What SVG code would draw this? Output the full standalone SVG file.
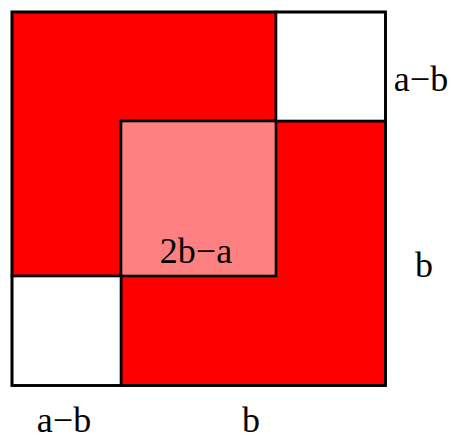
<svg xmlns="http://www.w3.org/2000/svg" width="451" height="436" viewBox="0 0 451 436">
<style>
.r{fill:#ff0000;stroke:#000;stroke-width:2.6}
.w{fill:#ffffff;stroke:#000;stroke-width:2.6}
.p{fill:#ff8080;stroke:#000;stroke-width:2.6}
.t{font-family:"Liberation Serif","Times New Roman",serif;font-size:36px;fill:#000}
</style>
<rect width="451" height="436" fill="#fff"/>
<g id="square-a">
<rect id="big-top-left" class="r" x="12" y="12" width="264" height="264"/>
<rect id="big-bottom-right" class="r" x="121" y="121" width="264.5" height="264.5"/>
<rect id="overlap" class="p" x="121" y="121" width="155" height="155"/>
<rect id="white-top-right" class="w" x="276" y="12" width="109.5" height="109"/>
<rect id="white-bottom-left" class="w" x="12" y="276" width="109" height="109.5"/>
<rect id="outline" x="12" y="12" width="373.5" height="373.5" fill="none" stroke="#000" stroke-width="2.6"/>
</g>
<g id="labels">
<text class="t" x="421" y="91" text-anchor="middle">a−b</text>
<text class="t" x="424" y="277" text-anchor="middle">b</text>
<text class="t" x="196" y="263" text-anchor="middle">2b−a</text>
<text class="t" x="64" y="432" text-anchor="middle">a−b</text>
<text class="t" x="251" y="432" text-anchor="middle">b</text>
</g>
</svg>
